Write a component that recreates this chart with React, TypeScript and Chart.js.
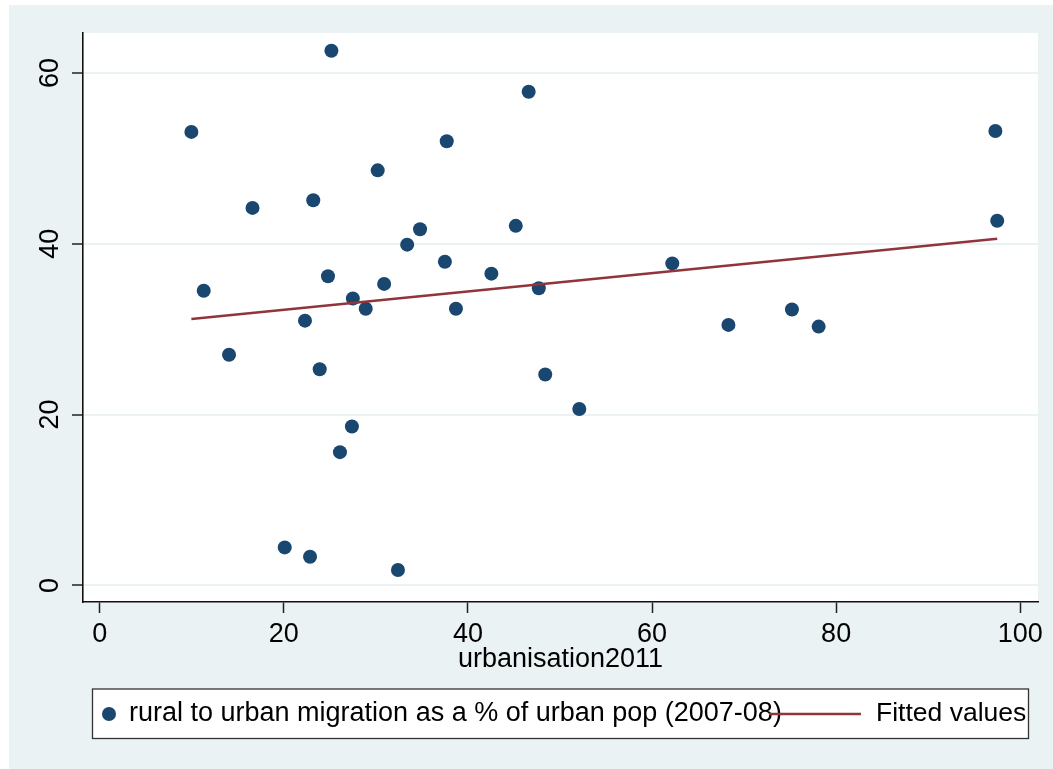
import { useEffect, useRef } from 'react';
import { Chart, registerables } from 'chart.js';

Chart.register(...registerables);

// urbanisation2011 (x) and rural->urban migration % (y)
const urbanisation = [
  9.96, 11.3, 14.05, 16.6, 20.1, 22.3, 22.85, 23.2, 23.9, 24.8, 25.17, 26.1,
  27.4, 27.5, 28.9, 30.2, 30.9, 32.4, 33.4, 34.8, 37.5, 37.7, 38.7, 42.55,
  45.2, 46.6, 47.7, 48.4, 52.1, 62.2, 68.3, 75.2, 78.1, 97.3, 97.5,
];
const migration = [
  53.1, 34.5, 27.0, 44.2, 4.45, 31.0, 3.36, 45.1, 25.3, 36.2, 62.6, 15.6,
  18.6, 33.6, 32.4, 48.6, 35.3, 1.8, 39.9, 41.7, 37.9, 52.0, 32.4, 36.5,
  42.1, 57.8, 34.8, 24.7, 20.65, 37.7, 30.5, 32.3, 30.3, 53.2, 42.7,
];

// fitted line end points
const fittedX = [9.96, 97.5];
const fittedY = [31.2, 40.6];

const xTicks = [0, 20, 40, 60, 80, 100];
const yTicks = [0, 20, 40, 60];

const scatterLabel = 'rural to urban migration as a % of urban pop (2007-08)';
const fittedLabel = 'Fitted values';
const xTitle = 'urbanisation2011';

const FONT = '"Liberation Sans", Arial, Helvetica, sans-serif';
const BG = '#eaf2f3';
const NAVY = '#1a476f';
const MAROON = '#90353b';

// Stata-like background + boxed legend (legend overlaps like the original)
const stataPlugin = {
  id: 'stataLook',
  beforeDraw(chart: any) {
    const { ctx, width, height, chartArea } = chart;
    ctx.save();
    ctx.fillStyle = '#ffffff';
    ctx.fillRect(0, 0, width, height);
    ctx.fillStyle = BG;
    ctx.fillRect(9, 5, width - 9, height - 5);
    ctx.fillStyle = '#ffffff';
    ctx.fillRect(chartArea.left, chartArea.top, chartArea.right - chartArea.left, chartArea.bottom - chartArea.top);
    ctx.restore();
  },
  afterDraw(chart: any) {
    const { ctx } = chart;
    const ds = chart.data.datasets;
    ctx.save();
    // legend box
    ctx.fillStyle = '#ffffff';
    ctx.fillRect(92.5, 689, 936, 49.5);
    ctx.strokeStyle = '#333333';
    ctx.lineWidth = 1.3;
    ctx.strokeRect(92.5, 689, 936, 49.5);
    const midY = 714;
    // scatter key
    ctx.fillStyle = NAVY;
    ctx.beginPath();
    ctx.arc(109, midY, 7, 0, Math.PI * 2);
    ctx.fill();
    ctx.fillStyle = '#000000';
    ctx.font = `27px ${FONT}`;
    ctx.textBaseline = 'middle';
    ctx.textAlign = 'left';
    ctx.fillText(ds[0].label, 129, midY);
    // fitted key
    ctx.strokeStyle = MAROON;
    ctx.lineWidth = 2.5;
    ctx.beginPath();
    ctx.moveTo(769, midY);
    ctx.lineTo(861, midY);
    ctx.stroke();
    ctx.fillStyle = '#000000';
    ctx.font = `26.5px ${FONT}`;
    ctx.fillText(ds[1].label, 876, midY);
    ctx.restore();
  },
};

export default function App() {
  const canvasRef = useRef<HTMLCanvasElement>(null);

  useEffect(() => {
    document.body.style.margin = '0';
    if (!canvasRef.current) return;

    Chart.defaults.font.family = FONT;
    Chart.defaults.font.size = 27;
    Chart.defaults.color = '#000000';

    const chart = new Chart(canvasRef.current, {
      type: 'scatter',
      data: {
        datasets: [
          {
            label: scatterLabel,
            data: urbanisation.map((x, i) => ({ x, y: migration[i] })),
            backgroundColor: NAVY,
            borderWidth: 0,
            pointRadius: 7,
            order: 1,
          },
          {
            label: fittedLabel,
            data: fittedX.map((x, i) => ({ x, y: fittedY[i] })),
            showLine: true,
            borderColor: MAROON,
            borderWidth: 2.5,
            pointRadius: 0,
            order: 0,
          } as any,
        ],
      },
      options: {
        animation: false,
        responsive: true,
        maintainAspectRatio: false,
        layout: { padding: { left: 0, right: 15, top: 33, bottom: 92 } },
        plugins: {
          legend: { display: false },
          tooltip: { enabled: false },
        },
        scales: {
          x: {
            type: 'linear',
            min: -1.814,
            max: 101.93,
            afterBuildTicks: (scale: any) => {
              scale.ticks = xTicks.map((v) => ({ value: v }));
            },
            afterFit: (scale: any) => {
              scale.height = 75;
            },
            ticks: {
              autoSkip: false,
              padding: 5,
              color: '#000000',
              font: { size: 27 },
              callback: (v: any) => String(v),
            },
            grid: {
              drawOnChartArea: false,
              drawTicks: true,
              tickLength: 11,
              tickColor: '#222222',
              tickWidth: 1.5,
            },
            border: { display: true, color: '#111111', width: 1.6 },
            title: {
              display: true,
              text: xTitle,
              color: '#000000',
              font: { size: 27 },
              padding: { top: 0, bottom: 1 },
            },
          },
          y: {
            type: 'linear',
            min: -1.944,
            max: 64.68,
            afterBuildTicks: (scale: any) => {
              scale.ticks = yTicks.map((v) => ({ value: v }));
            },
            afterFit: (scale: any) => {
              scale.width = 83;
            },
            ticks: {
              autoSkip: false,
              minRotation: 90,
              maxRotation: 90,
              crossAlign: 'center',
              padding: 6,
              color: '#000000',
              font: { size: 27 },
              callback: (v: any) => String(v),
            },
            grid: {
              color: BG,
              lineWidth: 2,
              drawTicks: true,
              tickLength: 11,
              tickColor: '#222222',
              tickWidth: 1.5,
            },
            border: { display: true, color: '#111111', width: 1.6 },
          },
        },
      },
      plugins: [stataPlugin],
    });

    return () => {
      chart.destroy();
    };
  }, []);

  return (
    <div style={{ position: 'relative', width: 1053, height: 769 }}>
      <canvas ref={canvasRef} />
    </div>
  );
}
